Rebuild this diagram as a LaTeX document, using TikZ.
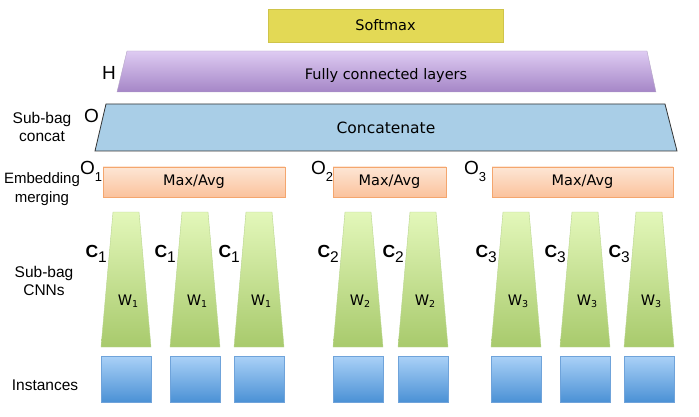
\documentclass[tikz,border=0pt]{standalone}
\usepackage{fontspec}
\setmainfont{Liberation Sans}
\newfontfamily\boxfont{DejaVu Sans}
\usetikzlibrary{calc,positioning}
\definecolor{softy}{HTML}{E3D955}
\definecolor{softd}{HTML}{CFC44A}
\definecolor{fctop}{HTML}{DECBF2}
\definecolor{fcbot}{HTML}{A586C7}
\definecolor{catc}{HTML}{A9CEE7}
\definecolor{mrgtop}{HTML}{FDE6D5}
\definecolor{mrgbot}{HTML}{FBC29C}
\definecolor{mrgd}{HTML}{F4A66E}
\definecolor{cnntop}{HTML}{E3F7BA}
\definecolor{cnnbot}{HTML}{A8CA6C}
\definecolor{cnnd}{HTML}{B9D58F}
\definecolor{insttop}{HTML}{AAD1F7}
\definecolor{instbot}{HTML}{4B91D5}
\definecolor{instd}{HTML}{6FA3DA}
\tikzset{
  lbl/.style={font=\fontsize{15.5}{18.5}\selectfont,align=center},
  boxtxt/.style={font=\boxfont\fontsize{14.5}{17}\selectfont},
  biglet/.style={font=\fontsize{19}{21}\selectfont,anchor=base west,inner sep=0pt},
  clet/.style={font=\bfseries\fontsize{17.5}{19}\selectfont,anchor=base east,inner sep=0pt},
  wlet/.style={font=\boxfont\fontsize{14.5}{16}\selectfont,anchor=base,inner sep=0pt},
  mrgbox/.style={draw=mrgd,thick,top color=mrgtop,bottom color=mrgbot,minimum height=30},
  instbox/.style={draw=instd,thick,top color=insttop,bottom color=instbot,minimum width=50,minimum height=46}
}
\newcommand{\lowidx}[2][0.32em]{\raisebox{-#1}{#2}}

\begin{document}
\begin{tikzpicture}[x=1pt,y=-1pt]
\useasboundingbox (0,0) rectangle (699,417);
% top of the network
\node[draw=softd,fill=softy,minimum width=235,minimum height=33,boxtxt] (soft) at (385.5,25.5) {Softmax};
\shade[top color=fctop,bottom color=fcbot,draw=fcbot!80!black!60,thin] (127,51)--(647,51)--(656,92)--(117,92)--cycle;
\node[boxtxt] (fc) at (386,76) {Fully connected layers};
\draw[fill=catc,draw=black!80,thick] (106,104)--(665,104)--(677,151)--(95,151)--cycle;
\node[boxtxt,font=\boxfont\fontsize{15.5}{18}\selectfont] (cat) at (386,128) {Concatenate};
\node[biglet] (hlab) at (102,80) {H};
\node[biglet] (olab) at (84,123) {O};
% merging boxes
\node[mrgbox,minimum width=182,boxtxt] (mrg1) at (194,182) {Max/Avg};
\node[mrgbox,minimum width=113,boxtxt] (mrg2) at (389.5,182) {Max/Avg};
\node[mrgbox,minimum width=181,boxtxt] (mrg3) at (582.5,182) {Max/Avg};
\node[biglet] (o1) at (80,175) {O\lowidx{\fontsize{13}{13}\selectfont 1}};
\node[biglet] (o2) at (311,175) {O\lowidx{\fontsize{13}{13}\selectfont 2}};
\node[biglet] (o3) at (464,175) {O\lowidx{\fontsize{13}{13}\selectfont 3}};
% sub-bag CNNs and instances
\foreach \cx/\i [count=\n] in {126/1,195/1,259/1,358/2,423/2,516/3,585/3,649/3}{
  \shade[top color=cnntop,bottom color=cnnbot,draw=cnnd]
    (\cx-13,212)--(\cx+13,212)--(\cx+25,347)--(\cx-25,347)--cycle;
  \node[wlet] (w\n) at (\cx+2,305) {W\lowidx[0.2em]{\fontsize{9.5}{9.5}\selectfont\i}};
  \node[clet] (c\n) at (\cx-19,257) {C\lowidx[0.3em]{\mdseries\fontsize{15.5}{15.5}\selectfont\i}};
  \node[instbox] (inst\n) at (\cx,379) {};
}
% row names
\node[lbl] (nconcat) at (42,127) {Sub-bag\\concat};
\node[lbl,font=\fontsize{15}{18.5}\selectfont] (nmerge) at (42,189) {Embedding\\merging};
\node[lbl] (ncnn) at (44,281) {Sub-bag\\CNNs};
\node[lbl] (ninst) at (45,385) {Instances};
\end{tikzpicture}
\end{document}
